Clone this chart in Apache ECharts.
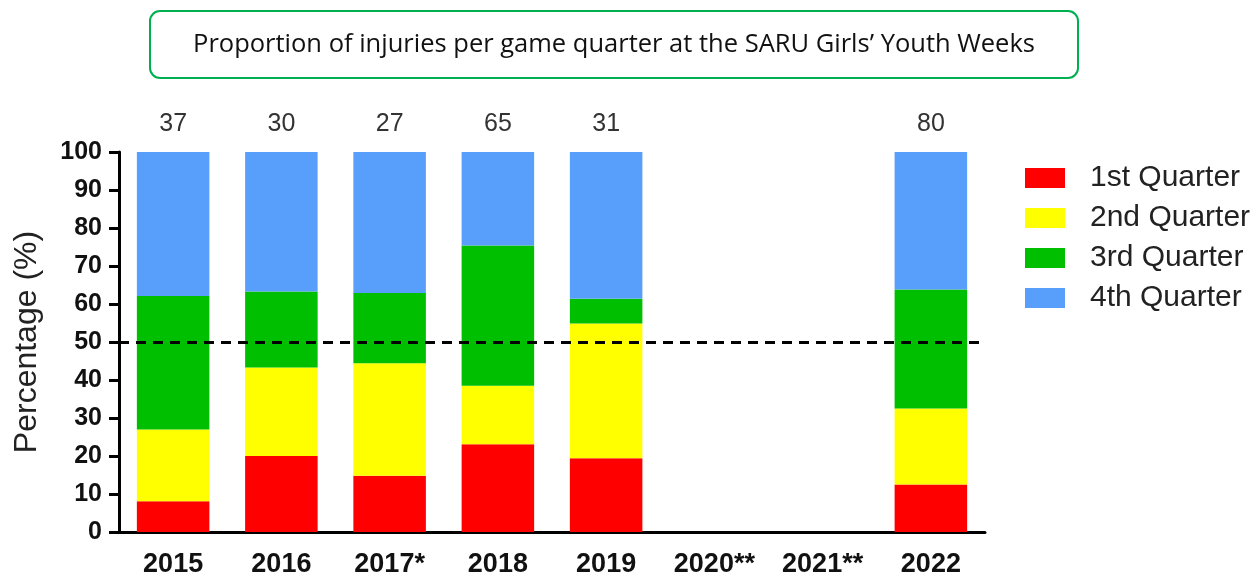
<!DOCTYPE html>
<html>
<head>
<meta charset="utf-8">
<script src="https://cdn.jsdelivr.net/npm/echarts@6/dist/echarts.min.js"></script>
<style>
html,body{margin:0;padding:0;background:#fff;}
#c{width:1258px;height:578px;}
</style>
</head>
<body>
<div id="c"></div>
<script>
const titleText = 'Proportion of injuries per game quarter at the SARU Girls\u2019 Youth Weeks';
const years = ['2015', '2016', '2017*', '2018', '2019', '2020**', '2021**', '2022'];
const counts = ['37', '30', '27', '65', '31', '', '', '80'];
const yTicks = [0, 10, 20, 30, 40, 50, 60, 70, 80, 90, 100];
const seriesNames = ['1st Quarter', '2nd Quarter', '3rd Quarter', '4th Quarter'];
const q1 = [8.1, 20.0, 14.8, 23.1, 19.4, null, null, 12.5];
const q2 = [18.9, 23.3, 29.6, 15.4, 35.5, null, null, 20.0];
const q3 = [35.1, 20.0, 18.5, 36.9, 6.5, null, null, 31.3];
const q4 = [37.9, 36.7, 37.1, 24.6, 38.6, null, null, 36.2];
const refLine = 50;

const colors = ['#FF0000', '#FFFF00', '#00BF00', '#589FFC'];
const dataSets = [q1, q2, q3, q4];

const chart = echarts.init(document.getElementById('c'));
const series = dataSets.map((d, i) => ({
  name: seriesNames[i],
  type: 'bar',
  stack: 'total',
  data: d,
  barCategoryGap: '33%',
  itemStyle: { color: colors[i] },
  emphasis: { disabled: true },
  silent: true
}));
series[3].markLine = {
  silent: true,
  symbol: 'none',
  label: { show: false },
  lineStyle: { color: '#000', width: 3, type: [10, 7] },
  data: [{ yAxis: refLine }],
  animation: false
};

chart.setOption({
  animation: false,
  color: colors,
  grid: { left: 119, right: 273, top: 152, bottom: 44 },
  graphic: [{
    type: 'group',
    left: 149, top: 10,
    children: [{
      type: 'rect',
      shape: { x: 0, y: 0, width: 928, height: 67, r: 10 },
      style: { fill: '#fff', stroke: '#00B050', lineWidth: 2 }
    }, {
      type: 'text',
      x: 464, y: 34,
      style: {
        text: titleText, fill: '#111', font: '25.5px "Open Sans", sans-serif',
        textAlign: 'center', textVerticalAlign: 'middle'
      }
    }]
  }],
  legend: {
    orient: 'vertical',
    left: 1020, top: 158,
    itemWidth: 40, itemHeight: 20, itemGap: 10,
    icon: 'rect',
    selectedMode: false,
    textStyle: { fontFamily: '"Liberation Sans", Arial, sans-serif', fontSize: 30, lineHeight: 28, color: '#222', padding: [0, 0, 0, 20] },
    data: seriesNames
  },
  xAxis: [{
    type: 'category',
    data: years,
    axisLine: { lineStyle: { color: '#000', width: 3 } },
    axisTick: { show: false },
    axisLabel: { color: '#111', fontWeight: 'bold', fontSize: 27, margin: 19, fontFamily: '"Liberation Sans", Arial, sans-serif', interval: 0 }
  }, {
    type: 'category',
    position: 'top',
    data: counts,
    axisLine: { show: false },
    axisTick: { show: false },
    axisLabel: { color: '#333', fontSize: 25, margin: 15, fontFamily: '"Liberation Sans", Arial, sans-serif', interval: 0 }
  }],
  yAxis: {
    type: 'value',
    min: yTicks[0], max: yTicks[yTicks.length - 1], interval: 10,
    name: 'Percentage (%)',
    nameLocation: 'middle',
    nameGap: 76,
    nameTextStyle: { fontSize: 32, color: '#222', fontFamily: '"Liberation Sans", Arial, sans-serif' },
    axisLine: { show: true, lineStyle: { color: '#000', width: 3 } },
    axisTick: { show: true, length: 10, lineStyle: { color: '#000', width: 3 } },
    splitLine: { show: false },
    axisLabel: { color: '#111', fontWeight: 'bold', fontSize: 25, margin: 17, fontFamily: '"Liberation Sans", Arial, sans-serif' }
  },
  series: series
});
</script>
</body>
</html>
